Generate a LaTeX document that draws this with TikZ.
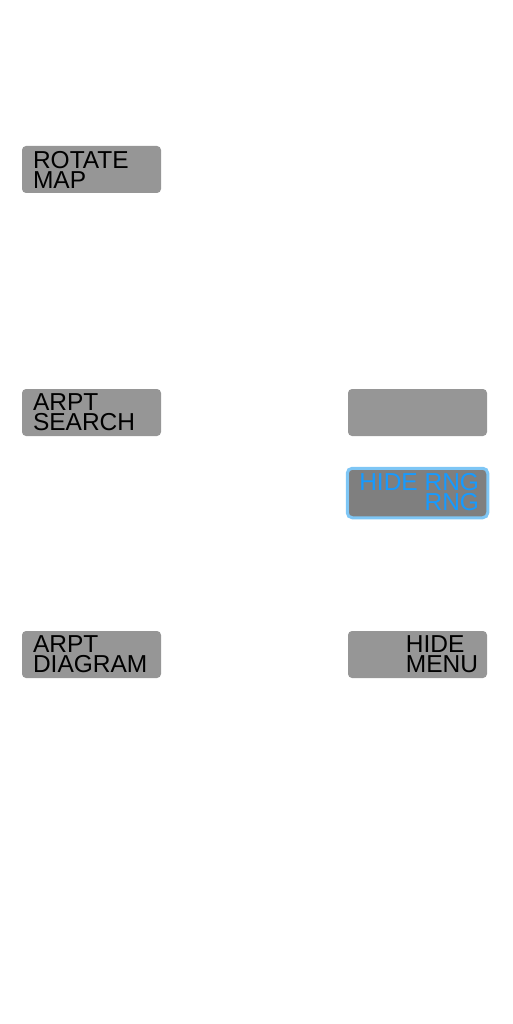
\documentclass[tikz,border=0pt]{standalone}
\usepackage{fontspec}
\setmainfont{Liberation Sans}
\usepackage{xcolor}
\usetikzlibrary{positioning}
\definecolor{btngray}{RGB}{150,150,150}
\definecolor{selgray}{RGB}{127,127,127}
\definecolor{selblue}{RGB}{126,198,245}
\definecolor{seltext}{RGB}{22,154,255}
\begin{document}
\begin{tikzpicture}[x=1pt,y=-1pt]
                \tikzstyle{btn} = [fill=btngray, rounded corners=4pt, minimum width=139pt, minimum height=47pt, inner sep=0pt]
                \tikzstyle{selbtn} = [fill=selgray, draw=selblue, line width=3pt, rounded corners=5pt, minimum width=140.5pt, minimum height=49.5pt, inner sep=0pt]
                \tikzstyle{lbl} = [inner sep=0pt, font=\fontsize{24.5}{20}\selectfont]
                \useasboundingbox (0,0) rectangle (512,1024);

                % left column
                \node [btn] (rotate) at (91.5,169.5) {};
                \node [btn] (search) at (91.5,412.5) {};
                \node [btn] (diagram) at (91.5,654.5) {};
                \node [lbl, anchor=west, align=left] (rotate-txt) at ([xshift=11pt]rotate.west) {ROTATE\\MAP};
                \node [lbl, anchor=west, align=left] (search-txt) at ([xshift=11pt]search.west) {ARPT\\SEARCH};
                \node [lbl, anchor=west, align=left] (diagram-txt) at ([xshift=11pt]diagram.west) {ARPT\\DIAGRAM};

                % right column
                \node [btn] (blank) at (417.5,412.5) {};
                \node [selbtn] (rng) at (417.5,493) {};
                \node [btn] (menu) at (417.5,654.5) {};
                \node [lbl, anchor=east, align=right, text=seltext] (rng-txt) at ([xshift=-10pt,yshift=1pt]rng.east) {HIDE RNG\\RNG};
                \node [lbl, anchor=east, align=left] (menu-txt) at ([xshift=-9pt]menu.east) {HIDE\\MENU};
\end{tikzpicture}
\end{document}
